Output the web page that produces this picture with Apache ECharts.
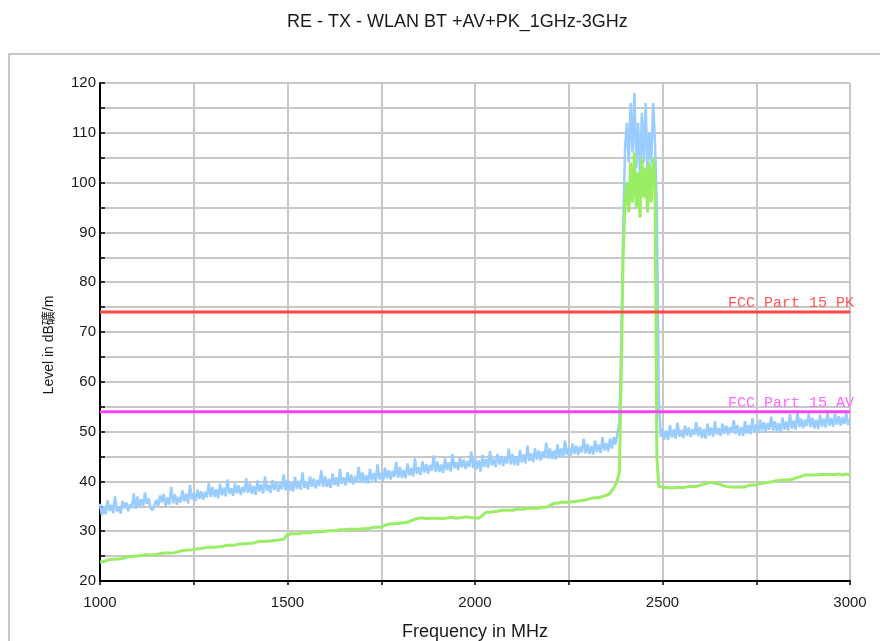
<!DOCTYPE html>
<html>
<head>
<meta charset="utf-8">
<script src="https://cdn.jsdelivr.net/npm/echarts@6/dist/echarts.min.js"></script>
<style>
  html, body { margin: 0; padding: 0; background: #fff; }
  #main { width: 880px; height: 641px; }
</style>
</head>
<body>
<div id="main"></div>
<script>
// sweep: 1000 MHz .. 3000 MHz, one reading every 5 MHz
var freqStart = 1000;
var freqStep = 5;

// peak detector trace (dBuV/m), rows of 100 MHz
var peakTrace = [
  35.5, 33.2, 35.0, 33.4, 36.2, 34.1, 35.3, 33.6, 37.0, 34.0, 34.9, 33.5, 36.1, 34.6, 35.8, 34.0, 35.4, 34.7, 37.6, 34.5,
  37.0, 34.8, 36.4, 35.0, 37.8, 35.5, 36.6, 34.7, 34.2, 35.2, 36.3, 35.0, 37.2, 35.8, 37.5, 34.9, 36.8, 35.4, 38.9, 35.6,
  37.4, 35.3, 36.9, 35.8, 38.2, 36.0, 37.5, 35.6, 39.3, 36.4, 37.6, 36.1, 38.3, 36.5, 38.0, 36.3, 37.9, 36.8, 39.6, 36.9,
  38.9, 36.9, 38.4, 36.6, 39.5, 37.2, 38.7, 37.0, 40.4, 37.5, 38.6, 37.1, 39.6, 37.6, 39.2, 37.3, 38.9, 37.8, 40.6, 37.7,
  39.6, 37.5, 39.1, 37.3, 40.2, 38.0, 39.4, 37.6, 41.0, 38.1, 39.3, 37.7, 40.3, 38.3, 39.9, 37.9, 39.6, 38.4, 41.4, 38.2,
  40.3, 38.1, 39.7, 38.0, 40.9, 38.5, 40.1, 38.3, 41.8, 38.7, 40.0, 38.4, 41.0, 38.9, 40.6, 38.6, 40.3, 39.1, 42.2, 38.9,
  41.0, 38.9, 40.5, 38.7, 41.6, 39.3, 40.8, 39.0, 42.5, 39.5, 40.8, 39.2, 41.9, 39.7, 41.4, 39.4, 41.1, 39.9, 42.9, 39.7,
  41.8, 39.7, 41.3, 39.6, 42.5, 40.2, 41.7, 39.9, 43.4, 40.4, 41.7, 40.1, 42.8, 40.6, 42.3, 40.4, 42.1, 40.9, 43.9, 40.7,
  42.9, 40.7, 42.3, 40.6, 43.6, 41.2, 42.7, 41.0, 44.6, 41.5, 42.8, 41.3, 44.0, 41.8, 43.5, 41.6, 43.3, 42.1, 45.2, 41.9,
  44.0, 41.9, 43.4, 41.7, 44.6, 42.3, 43.8, 42.0, 45.5, 42.6, 43.9, 42.3, 44.8, 42.8, 44.4, 42.5, 44.1, 42.9, 46.0, 42.7,
  44.7, 42.5, 44.2, 42.0, 45.3, 42.9, 44.5, 42.7, 46.1, 43.2, 44.6, 42.9, 45.5, 43.4, 45.1, 43.1, 44.8, 43.6, 46.6, 43.4,
  45.5, 43.3, 45.0, 43.2, 46.3, 43.8, 45.4, 43.6, 47.2, 44.1, 45.6, 43.9, 46.6, 44.4, 46.2, 44.2, 46.0, 44.7, 47.8, 44.6,
  46.6, 44.5, 46.2, 44.4, 47.4, 45.0, 46.6, 44.8, 48.2, 45.3, 46.7, 45.1, 47.6, 45.5, 47.2, 45.3, 47.0, 45.8, 48.6, 45.6,
  47.5, 45.5, 47.1, 45.4, 48.2, 45.9, 47.4, 45.7, 48.9, 46.2, 47.7, 46.0, 48.6, 46.6, 48.9, 47.4, 49.8, 52.0, 68.0, 90.0,
  107, 112, 104, 116, 106, 118, 103, 112, 101, 114, 104, 116, 102, 110, 104, 116, 108, 95, 57, 49.0,
  50.6, 48.4, 50.2, 48.3, 51.3, 48.8, 50.4, 48.6, 51.8, 49.0, 50.3, 48.7, 51.2, 49.2, 50.8, 48.9, 50.5, 49.4, 51.9, 49.1,
  50.9, 48.7, 50.5, 48.6, 51.6, 49.2, 50.8, 49.0, 52.1, 49.4, 50.7, 49.1, 51.6, 49.6, 51.2, 49.3, 50.9, 49.8, 52.3, 49.5,
  51.3, 49.2, 50.9, 49.1, 52.1, 49.6, 51.3, 49.5, 52.7, 49.9, 51.4, 49.7, 52.4, 50.2, 51.9, 50.0, 51.7, 50.4, 53.0, 50.2,
  52.1, 50.0, 51.7, 49.8, 52.8, 50.4, 52.0, 50.2, 53.5, 50.6, 52.2, 50.4, 54.0, 50.9, 52.6, 50.7, 52.4, 51.1, 53.6, 50.9,
  52.8, 50.6, 52.4, 50.5, 53.4, 51.0, 52.6, 50.8, 53.9, 51.2, 52.7, 51.0, 53.6, 51.4, 53.1, 51.2, 52.9, 51.5, 53.8, 51.3,
  52.4
];

// average detector trace (dBuV/m), rows of 100 MHz
var avgTrace = [
  23.8, 24.0, 23.9, 24.1, 24.2, 24.1, 24.3, 24.2, 24.4, 24.5, 24.4, 24.6, 24.5, 24.7, 24.8, 24.7, 24.9, 25.0, 24.9, 25.1,
  25.0, 25.2, 25.1, 25.2, 25.3, 25.1, 25.2, 25.3, 25.2, 25.4, 25.3, 25.4, 25.5, 25.4, 25.6, 25.5, 25.6, 25.7, 25.6, 25.8,
  25.7, 25.8, 25.9, 26.0, 26.1, 26.0, 26.2, 26.3, 26.2, 26.4, 26.3, 26.4, 26.5, 26.6, 26.5, 26.6, 26.7, 26.6, 26.8, 26.7,
  26.8, 26.9, 26.8, 27.0, 26.9, 27.1, 27.0, 27.1, 27.2, 27.1, 27.2, 27.3, 27.2, 27.3, 27.4, 27.3, 27.5, 27.4, 27.5, 27.6,
  27.6, 27.7, 27.6, 27.8, 27.9, 27.8, 28.0, 27.9, 28.0, 28.1, 28.0, 28.2, 28.1, 28.3, 28.2, 28.4, 28.3, 28.5, 28.4, 28.6,
  29.3, 29.4, 29.5, 29.4, 29.5, 29.6, 29.5, 29.6, 29.7, 29.6, 29.7, 29.8, 29.7, 29.8, 29.9, 29.8, 29.9, 30.0, 29.9, 30.0,
  30.0, 29.9, 30.1, 30.0, 30.1, 30.2, 30.1, 30.2, 30.3, 30.2, 30.3, 30.2, 30.4, 30.3, 30.4, 30.5, 30.4, 30.5, 30.4, 30.6,
  30.5, 30.6, 30.5, 30.7, 30.6, 30.7, 30.8, 30.7, 30.8, 30.7, 30.8, 31.0, 31.2, 31.3, 31.4, 31.3, 31.5, 31.6, 31.5, 31.7,
  31.6, 31.8, 31.7, 31.9, 31.8, 32.0, 32.1, 32.0, 32.4, 32.5, 32.6, 32.5, 32.7, 32.6, 32.5, 32.7, 32.6, 32.7, 32.6, 32.8,
  32.6, 32.7, 32.5, 32.7, 32.6, 32.8, 32.7, 32.6, 32.8, 32.7, 32.6, 32.8, 32.7, 32.9, 32.8, 32.7, 32.9, 32.8, 32.7, 32.8,
  32.7, 32.3, 32.6, 32.9, 33.2, 33.6, 33.8, 33.9, 33.8, 34.0, 33.9, 34.1, 34.0, 34.1, 34.2, 34.1, 34.2, 34.3, 34.2, 34.3,
  34.2, 34.3, 34.4, 34.3, 34.4, 34.5, 34.4, 34.5, 34.6, 34.5, 34.6, 34.7, 34.6, 34.7, 34.6, 34.7, 34.8, 34.7, 34.8, 34.9,
  35.2, 35.5, 35.6, 35.7, 35.6, 35.7, 35.8, 35.7, 35.8, 35.9, 35.8, 36.0, 35.9, 36.1, 36.0, 36.2, 36.1, 36.3, 36.2, 36.4,
  36.4, 36.5, 36.6, 36.5, 36.7, 36.8, 36.7, 36.9, 37.0, 37.1, 37.2, 37.4, 37.6, 37.9, 38.7, 39.4, 40.3, 42.0, 62.0, 85.0,
  96, 100, 94, 104, 96, 106, 95, 102, 93, 105, 97, 103, 94, 104, 96, 105, 100, 45, 39.0, 38.8,
  38.8, 38.7, 38.8, 38.6, 38.7, 38.8, 38.7, 38.6, 38.8, 38.7, 38.8, 38.9, 38.8, 38.9, 39.0, 38.9, 39.0, 39.1, 39.0, 39.2,
  39.2, 39.3, 39.4, 39.5, 39.6, 39.7, 39.8, 39.7, 39.6, 39.7, 39.5, 39.3, 39.2, 39.1, 39.0, 39.1, 38.9, 39.0, 38.9, 38.8,
  38.9, 38.8, 38.9, 39.0, 38.9, 39.1, 39.2, 39.1, 39.3, 39.4, 39.3, 39.5, 39.6, 39.5, 39.7, 39.6, 39.8, 39.7, 39.9, 40.0,
  40.1, 40.0, 40.2, 40.1, 40.3, 40.4, 40.3, 40.5, 40.4, 40.6, 40.5, 40.7, 40.8, 40.9, 41.0, 41.2, 41.3, 41.2, 41.3, 41.4,
  41.3, 41.4, 41.3, 41.5, 41.4, 41.3, 41.4, 41.5, 41.4, 41.3, 41.4, 41.5, 41.4, 41.3, 41.5, 41.4, 41.3, 41.4, 41.5, 41.4,
  41.3
];

// limit lines
var limitFreq = [1000, 3000];
var limitPK = [74, 74];
var limitAV = [54, 54];

function toPairs(vals) {
  var out = [];
  for (var i = 0; i < vals.length; i++) out.push([freqStart + i * freqStep, vals[i]]);
  return out;
}
function limitPairs(vals, label, color) {
  var out = [];
  for (var i = 0; i < vals.length; i++) out.push([limitFreq[i], vals[i]]);
  out[out.length - 1] = {
    value: out[out.length - 1],
    label: {
      show: true, position: 'top', align: 'right', distance: 1,
      offset: [4, 0],
      formatter: label, color: color,
      fontFamily: 'Liberation Mono', fontSize: 15
    }
  };
  return out;
}

var chart = echarts.init(document.getElementById('main'));
var txt = '#1a1a1a';

chart.setOption({
  animation: false,
  backgroundColor: '#ffffff',
  title: {
    text: 'RE - TX - WLAN BT +AV+PK_1GHz-3GHz',
    left: 282, top: 8,
    textStyle: { fontFamily: 'Liberation Sans', fontSize: 18, fontWeight: 'normal', color: txt }
  },
  graphic: [{
    type: 'rect', silent: true, z: -10,
    shape: { x: 9, y: 54, width: 900, height: 700 },
    style: { fill: null, stroke: '#c8c8c8', lineWidth: 2 }
  }, {
    type: 'text', silent: true,
    x: 49, y: 345, rotation: Math.PI / 2,
    style: {
      text: 'Level in dB礦/m', fill: txt,
      font: '14px "Liberation Sans", "Noto Sans CJK SC"',
      textAlign: 'center', textVerticalAlign: 'middle'
    }
  }],
  grid: { left: 100, right: 30, top: 83, bottom: 60, outerBoundsMode: 'none' },
  xAxis: {
    type: 'value', min: 1000, max: 3000, interval: 250,
    name: 'Frequency in MHz', nameLocation: 'middle', nameGap: 42,
    nameTextStyle: { fontFamily: 'Liberation Sans', fontSize: 18, color: txt },
    axisLine: { show: true, onZero: false, lineStyle: { color: '#000', width: 2 } },
    axisTick: { show: true, length: 4, lineStyle: { color: '#000', width: 1.5 } },
    axisLabel: {
      margin: 14, fontFamily: 'Liberation Sans', fontSize: 15, color: txt,
      formatter: function (v) { return v % 500 === 0 ? String(v) : ''; }
    },
    splitLine: { show: true, lineStyle: { color: '#c8c8c8', width: 2 } }
  },
  yAxis: {
    type: 'value', min: 20, max: 120, interval: 5,
    axisLine: { show: true, onZero: false, lineStyle: { color: '#000', width: 2 } },
    axisTick: { show: true, inside: true, length: 5, lineStyle: { color: '#000', width: 1.5 } },
    axisLabel: {
      margin: 4, fontFamily: 'Liberation Sans', fontSize: 15, color: txt,
      formatter: function (v) { return v % 10 === 0 ? String(v) : ''; }
    },
    splitLine: { show: true, lineStyle: { color: '#c8c8c8', width: 2 } }
  },
  series: [
    {
      name: 'PK', type: 'line', data: toPairs(peakTrace),
      symbol: 'none', z: 3,
      lineStyle: { color: '#99CCFF', width: 2.5 }
    },
    {
      name: 'AV', type: 'line', data: toPairs(avgTrace),
      symbol: 'none', z: 4,
      lineStyle: { color: '#99EE66', width: 3 }
    },
    {
      name: 'FCC Part 15 PK', type: 'line',
      data: limitPairs(limitPK, 'FCC Part 15 PK', '#FF5555'),
      symbol: 'circle', symbolSize: 1, showSymbol: true, z: 5,
      itemStyle: { color: '#FF4444' },
      lineStyle: { color: '#FF4444', width: 3 }
    },
    {
      name: 'FCC Part 15 AV', type: 'line',
      data: limitPairs(limitAV, 'FCC Part 15 AV', '#FF66FF'),
      symbol: 'circle', symbolSize: 1, showSymbol: true, z: 5,
      itemStyle: { color: '#FF44FF' },
      lineStyle: { color: '#FF44FF', width: 3 }
    }
  ]
});
</script>
</body>
</html>
